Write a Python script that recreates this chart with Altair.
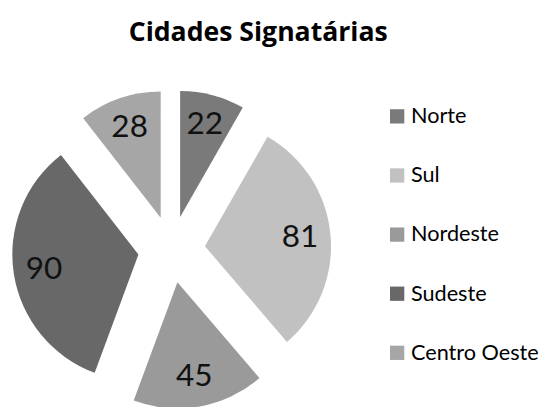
import altair as alt
import pandas as pd

# ---- data ----
regions = ["Norte", "Sul", "Nordeste", "Sudeste", "Centro Oeste"]
values = [22, 81, 45, 90, 28]
title_text = "Cidades Signatárias"

# ---- styles ----
colors = ["#7a7a7a", "#c1c1c1", "#9a9a9a", "#686868", "#a6a6a6"]
FONT = "Lato"
CX, CY = 166, 242      # pie centre (view px)
EXPLODE = 34           # explosion distance
R = 128                # radius
LR = 97                # label radius from slice centre

df = pd.DataFrame({"region": regions, "value": values, "order": list(range(len(regions)))})

base = (
    alt.Chart(df)
    .transform_window(cum="sum(value)", sort=[alt.SortField("order")], frame=[None, 0])
    .transform_joinaggregate(total="sum(value)")
    .transform_calculate(
        t1="2*PI*datum.cum/datum.total",
        t0="2*PI*(datum.cum-datum.value)/datum.total",
    )
    .transform_calculate(mid="(datum.t0+datum.t1)/2")
    .transform_calculate(
        cx=f"{CX}+{EXPLODE}*sin(datum.mid)",
        cy=f"{CY}-{EXPLODE}*cos(datum.mid)",
    )
    .transform_calculate(
        lx=f"datum.cx+{LR}*sin(datum.mid)",
        ly=f"datum.cy-{LR}*cos(datum.mid)",
    )
)

arcs = base.mark_arc(radius=R).encode(
    theta=alt.Theta("t0:Q", scale=None, stack=None),
    theta2="t1:Q",
    x=alt.X("cx:Q", scale=None),
    y=alt.Y("cy:Q", scale=None),
    color=alt.Color(
        "region:N",
        scale=alt.Scale(domain=regions, range=colors),
        sort=regions,
        legend=alt.Legend(
            title=None,
            orient="none",
            legendX=384,
            legendY=96,
            symbolType="square",
            symbolSize=210,
            symbolStrokeWidth=0,
            labelFont=FONT,
            labelFontSize=22,
            labelColor="black",
            labelOffset=3,
            rowPadding=38,
        ),
    ),
)

labels = base.mark_text(font=FONT, fontSize=32, color="#111111", align="center", baseline="middle").encode(
    x=alt.X("lx:Q", scale=None),
    y=alt.Y("ly:Q", scale=None),
    text="value:Q",
)

title = alt.Chart(pd.DataFrame({"t": [title_text]})).mark_text(
    font="Open Sans", fontSize=27, fontWeight="bold", color="black", align="center", baseline="alphabetic"
).encode(x=alt.value(254), y=alt.value(30), text="t:N")

chart = (
    alt.layer(arcs, labels, title)
    .properties(width=541, height=399, autosize=alt.AutoSizeParams(type="none"), padding=0)
    .configure_view(strokeWidth=0)
)

chart.save("out.html", embed_options={"renderer": "svg", "actions": False})
